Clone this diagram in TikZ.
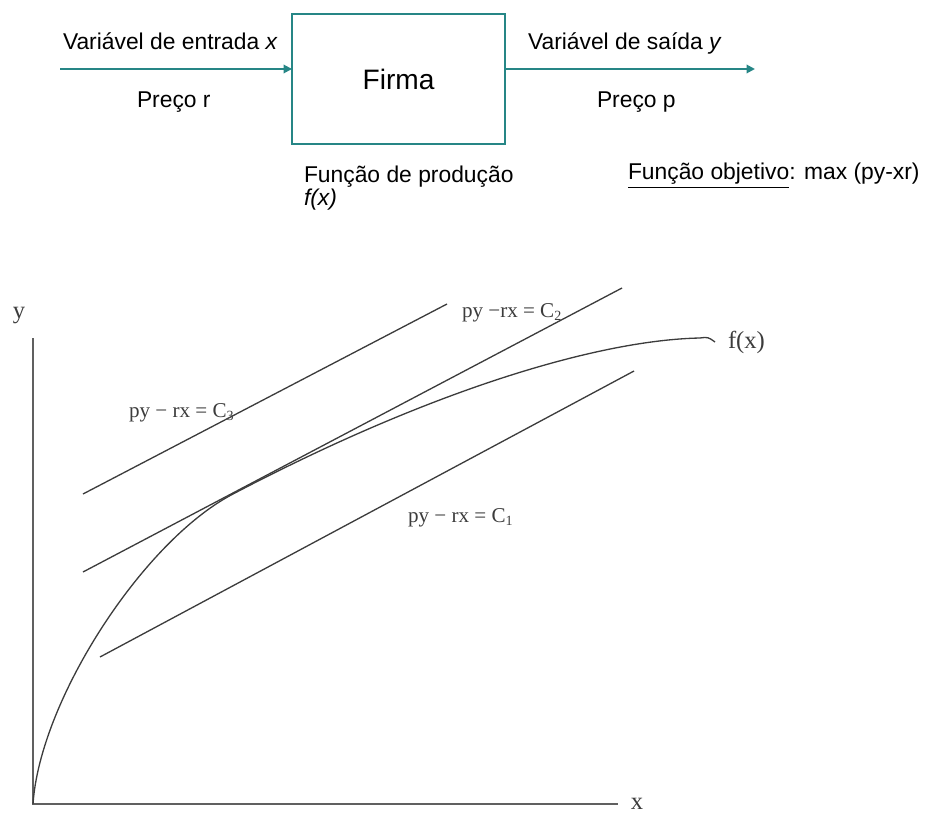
\documentclass[tikz,border=0pt]{standalone}
\usepackage{fontspec}
\setmainfont{Liberation Serif}
\newfontfamily\arialfont{Liberation Sans}
\usetikzlibrary{positioning,arrows.meta}
\definecolor{firmteal}{RGB}{38,134,134}
\definecolor{inkgray}{RGB}{60,60,60}

\begin{document}
\begin{tikzpicture}[
    x=0.02cm, y=-0.02cm,
    every node/.style={inner sep=0pt, outer sep=0pt},
    firm/.style={rectangle, draw=firmteal, line width=1.2pt, minimum width=4.26cm, minimum height=2.6cm, font=\arialfont\fontsize{16}{18}\selectfont},
    toplbl/.style={font=\arialfont\fontsize{13}{15}\selectfont, anchor=base west},
    flow/.style={-{Triangle[length=1.7mm,width=1.7mm]}, draw=firmteal, line width=1.1pt},
    axis/.style={draw=gray!75!black, line width=1pt},
    curve/.style={draw=inkgray, line width=0.75pt},
    eqlbl/.style={font=\fontsize{12}{14}\selectfont, text=inkgray, anchor=base west},
    axlbl/.style={font=\fontsize{14}{16}\selectfont, text=inkgray},
]
\useasboundingbox (0,0) rectangle (929,814);

% Top: the firm as a box
\node[firm] (firma) at (398.5,79) {Firma};

% Input and output flows
\coordinate (inStart) at (60,69);
\coordinate (outEnd) at (755,69);
\draw[flow] (inStart) -- (inStart -| firma.west);
\draw[flow] (firma.east |- outEnd) -- (outEnd);

\node[toplbl] (inVar) at (63,50) {Variável de entrada \textit{x}};
\node[toplbl] (inPrice) at (137,108) {Preço r};
\node[toplbl] (outVar) at (528,50) {Variável de saída \textit{y}};
\node[toplbl] (outPrice) at (597,108) {Preço p};

% Production function and objective
\node[toplbl] (prod) at (304,183) {Função de produção};
\node[toplbl] (prodf) at (304,206) {\textit{f(x)}};
\node[toplbl] (objective) at (628,180) {\underline{Função objetivo}: max (py-xr)};

% Axes
\coordinate (O) at (33,804);
\coordinate (yTop) at (33,338);
\coordinate (xEnd) at (618,804);
\draw[axis] (yTop) -- (O) -- (xEnd);
\node[axlbl, anchor=base] (ylab) at (19,318) {y};
\node[axlbl, anchor=base] (xlab) at (637,809) {x};

% Iso-profit lines
\coordinate (c3a) at (83,494);
\coordinate (c3b) at (447,304);
\coordinate (c2a) at (83,572);
\coordinate (c2b) at (622,288);
\coordinate (c1a) at (100,657);
\coordinate (c1b) at (634,371);
\draw[curve] (c3a) -- (c3b);
\draw[curve] (c2a) -- (c2b);
\draw[curve] (c1a) -- (c1b);

\node[eqlbl] (c3lab) at (129,417) {py − rx = C\textsubscript{3}};
\node[eqlbl] (c2lab) at (462,317) {py −rx = C\textsubscript{2}};
\node[eqlbl] (c1lab) at (408,522) {py − rx = C\textsubscript{1}};

% Production curve f(x), tangent to C2
\coordinate (tang) at (233,494);
\coordinate (fEnd) at (700,338);
\coordinate (fTip) at (715,342);
\draw[curve] (O) .. controls (40,700) and (143,541) .. (tang)
    .. controls (433,389) and (600,340) .. (fEnd)
    .. controls (708,337) .. (fTip);
\node[axlbl, anchor=base west] (flab) at (728,348) {f(x)};

\end{tikzpicture}
\end{document}
